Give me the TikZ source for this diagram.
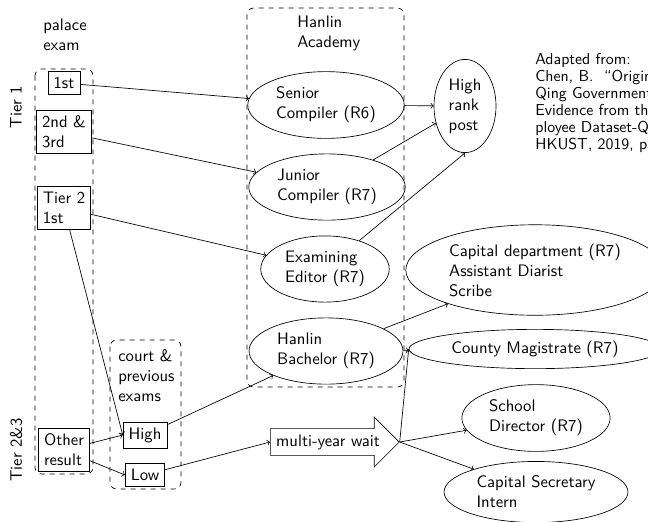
\documentclass[tikz,border=0pt]{standalone}
\usepackage{amsmath, amssymb}
\usepackage{xcolor}
\usetikzlibrary{shapes.geometric, shapes.arrows}

\tikzset{
    rung/.style={draw, rectangle, align=left},
    post/.style={draw, ellipse, align=left},
    group/.style={draw, dashed, rounded corners=4pt},
    tag/.style={align=left, inner sep=0pt, anchor=west},
}

\begin{document}
\begin{tikzpicture}[x=0.6pt, y=-0.6pt, font=\sffamily, >=to]
        \useasboundingbox (0,0) rectangle (648,521);
        \clip (0,0) rectangle (648,521);
        %% groups
        \draw[group] (35,69) rectangle (93,474);
        \draw[group] (110,340) rectangle (181,489);
        \draw[group] (247,8) rectangle (404,387);
        %% group labels
        \node[tag] (palace) at (43,35) {palace\\exam};
        \node[tag] (academy) at (297,33) {Hanlin\\Academy};
        \node[tag] (court) at (118,376) {court \&\\previous\\exams};
        \node[rotate=90] (tierone) at (16,107) {Tier 1};
        \node[rotate=90] (tiertwo) at (16,450) {Tier 2\&3};
        %% exam results
        \node[rung] (first) at (64,83) {1st};
        \node[rung] (second) at (64,132) {2nd \&\\3rd};
        \node[rung] (tiertwofirst) at (64,208) {Tier 2\\1st};
        \node[rung] (other) at (64,450) {Other\\result};
        \node[rung] (high) at (145,435) {High};
        \node[rung] (low) at (145,475) {Low};
        %% posts
        \node[post] (senior) at (326,105) {Senior\\Compiler (R6)};
        \node[post] (junior) at (327,187) {Junior\\Compiler (R7)};
        \node[post] (editor) at (325,269) {Examining\\Editor (R7)};
        \node[post] (bachelor) at (326,351) {Hanlin\\Bachelor (R7)};
        \node[post] (highpost) at (465,106) {High\\rank\\post};
        \node[post] (capital) at (535,270) {Capital department (R7)\\Assistant Diarist\\Scribe};
        \node[post] (county) at (535,349) {County Magistrate (R7)};
        \node[post] (school) at (536,418) {School\\Director (R7)};
        \node[post] (intern) at (536,492) {Capital Secretary\\Intern};
        \node[draw, single arrow, single arrow head extend=7pt, anchor=tail] (wait) at (270,442) {multi-year wait};
        %% source
        \node[align=left, inner sep=0pt, anchor=north west, font=\sffamily\fontsize{9.5}{10.2}\selectfont] (source) at (535,53)
            {Adapted from:\\Chen, B.\ \ “Origins of the\\Qing Government Officials:\\Evidence from the Em-\\ployee Dataset-Qing”,\\HKUST, 2019, p5.};
        %% edges
        \draw[->] (first) -- (senior);
        \draw[->] (second) -- (junior);
        \draw[->] (tiertwofirst) -- (editor);
        \draw[->] (tiertwofirst) -- (high.west);
        \draw[->] (other) -- (high.west);
        \draw[->] (other) -- (low.west);
        \draw[->] (high) -- (bachelor);
        \draw[->] (low) -- (wait.tail);
        \draw[->] (senior) -- (highpost);
        \draw[->] (junior) -- (highpost);
        \draw[->] (editor) -- (highpost.south);
        \draw[->] (bachelor) -- (capital);
        \draw[->] (bachelor) -- (county);
        \draw[->] (wait.tip) -- (county.west);
        \draw[->] (wait.tip) -- (school);
        \draw[->] (wait.tip) -- (intern);
    \end{tikzpicture}
\end{document}
